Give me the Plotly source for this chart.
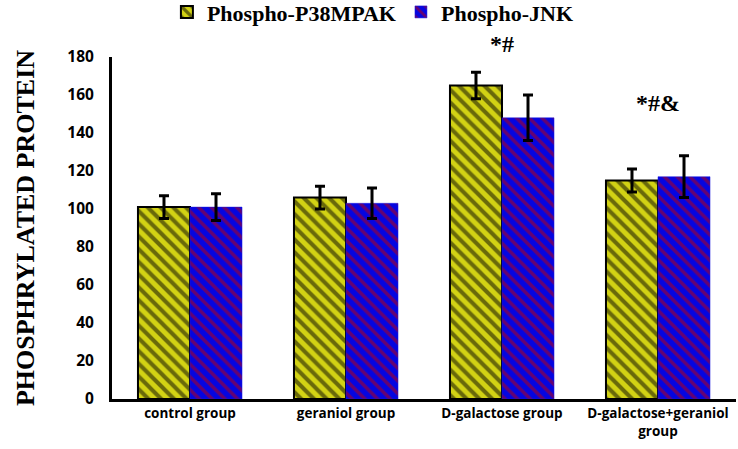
import plotly.graph_objects as go

categories = ["control group", "geraniol group", "D-galactose group", "D-galactose+geraniol<br>group"]
p38_values = [101, 106, 165, 115]
p38_err = [6, 6, 7, 6]
jnk_values = [101, 103, 148, 117]
jnk_err = [7, 8, 12, 11]
series_names = ["Phospho-P38MPAK", "Phospho-JNK"]
annot_text = ["*#", "*#&"]
annot_cat = [2, 3]
annot_y = [187, 156]
y_max = 180

fig = go.Figure()
fig.add_trace(go.Bar(
    x=list(range(4)), y=p38_values, name=series_names[0],
    marker=dict(color="#d2d214", line=dict(color="black", width=2),
                pattern=dict(shape="\\", fgcolor="black", bgcolor="#d2d214", size=9, solidity=0.45)),
    error_y=dict(type="data", array=p38_err, color="black", thickness=3, width=5),
))
fig.add_trace(go.Bar(
    x=list(range(4)), y=jnk_values, name=series_names[1],
    marker=dict(color="#0505e0", line=dict(color="#1a1ae0", width=0.5),
                pattern=dict(shape="\\", fgcolor="#c80000", bgcolor="#0505e0", size=9, solidity=0.38)),
    error_y=dict(type="data", array=jnk_err, color="black", thickness=3, width=5),
))

for t, c, yv in zip(annot_text, annot_cat, annot_y):
    fig.add_annotation(x=c, y=yv / y_max, text=t, showarrow=False, xref="x", yref="paper",
                       xanchor="center", yanchor="middle",
                       font=dict(family="Liberation Serif", size=24, color="black", weight="bold"))

fig.update_layout(
    width=738, height=449,
    margin=dict(l=112, r=2, t=57, b=50),
    paper_bgcolor="white", plot_bgcolor="white",
    barmode="group", bargap=0.333, bargroupgap=0,
    showlegend=True,
    legend=dict(orientation="h", x=0.088, y=0.973, xanchor="left", yanchor="middle", yref="container",
                font=dict(family="Liberation Serif", size=22, color="black", weight="bold"),
                itemwidth=30, tracegroupgap=0),
    xaxis=dict(tickmode="array", tickvals=list(range(4)), ticktext=categories, automargin=False,
               range=[-0.5, 3.5], showline=True, linecolor="black", linewidth=3,
               showgrid=False, ticks="", tickfont=dict(family="Open Sans", size=13.5, color="black", weight="bold")),
    yaxis=dict(range=[0, y_max], dtick=20, showline=True, linecolor="black", linewidth=3, automargin=False,
               showgrid=False, zeroline=False, ticks="", ticklabelstandoff=12,
               tickfont=dict(family="Open Sans", size=15.5, color="black", weight="bold"),
               title=dict(text="PHOSPHRYLATED PROTEIN", standoff=26,
                          font=dict(family="Liberation Serif", size=26, color="black", weight="bold"))),
)
fig.write_html("out.html", config={"displayModeBar": False},
               post_script="document.body.style.margin='0';")
